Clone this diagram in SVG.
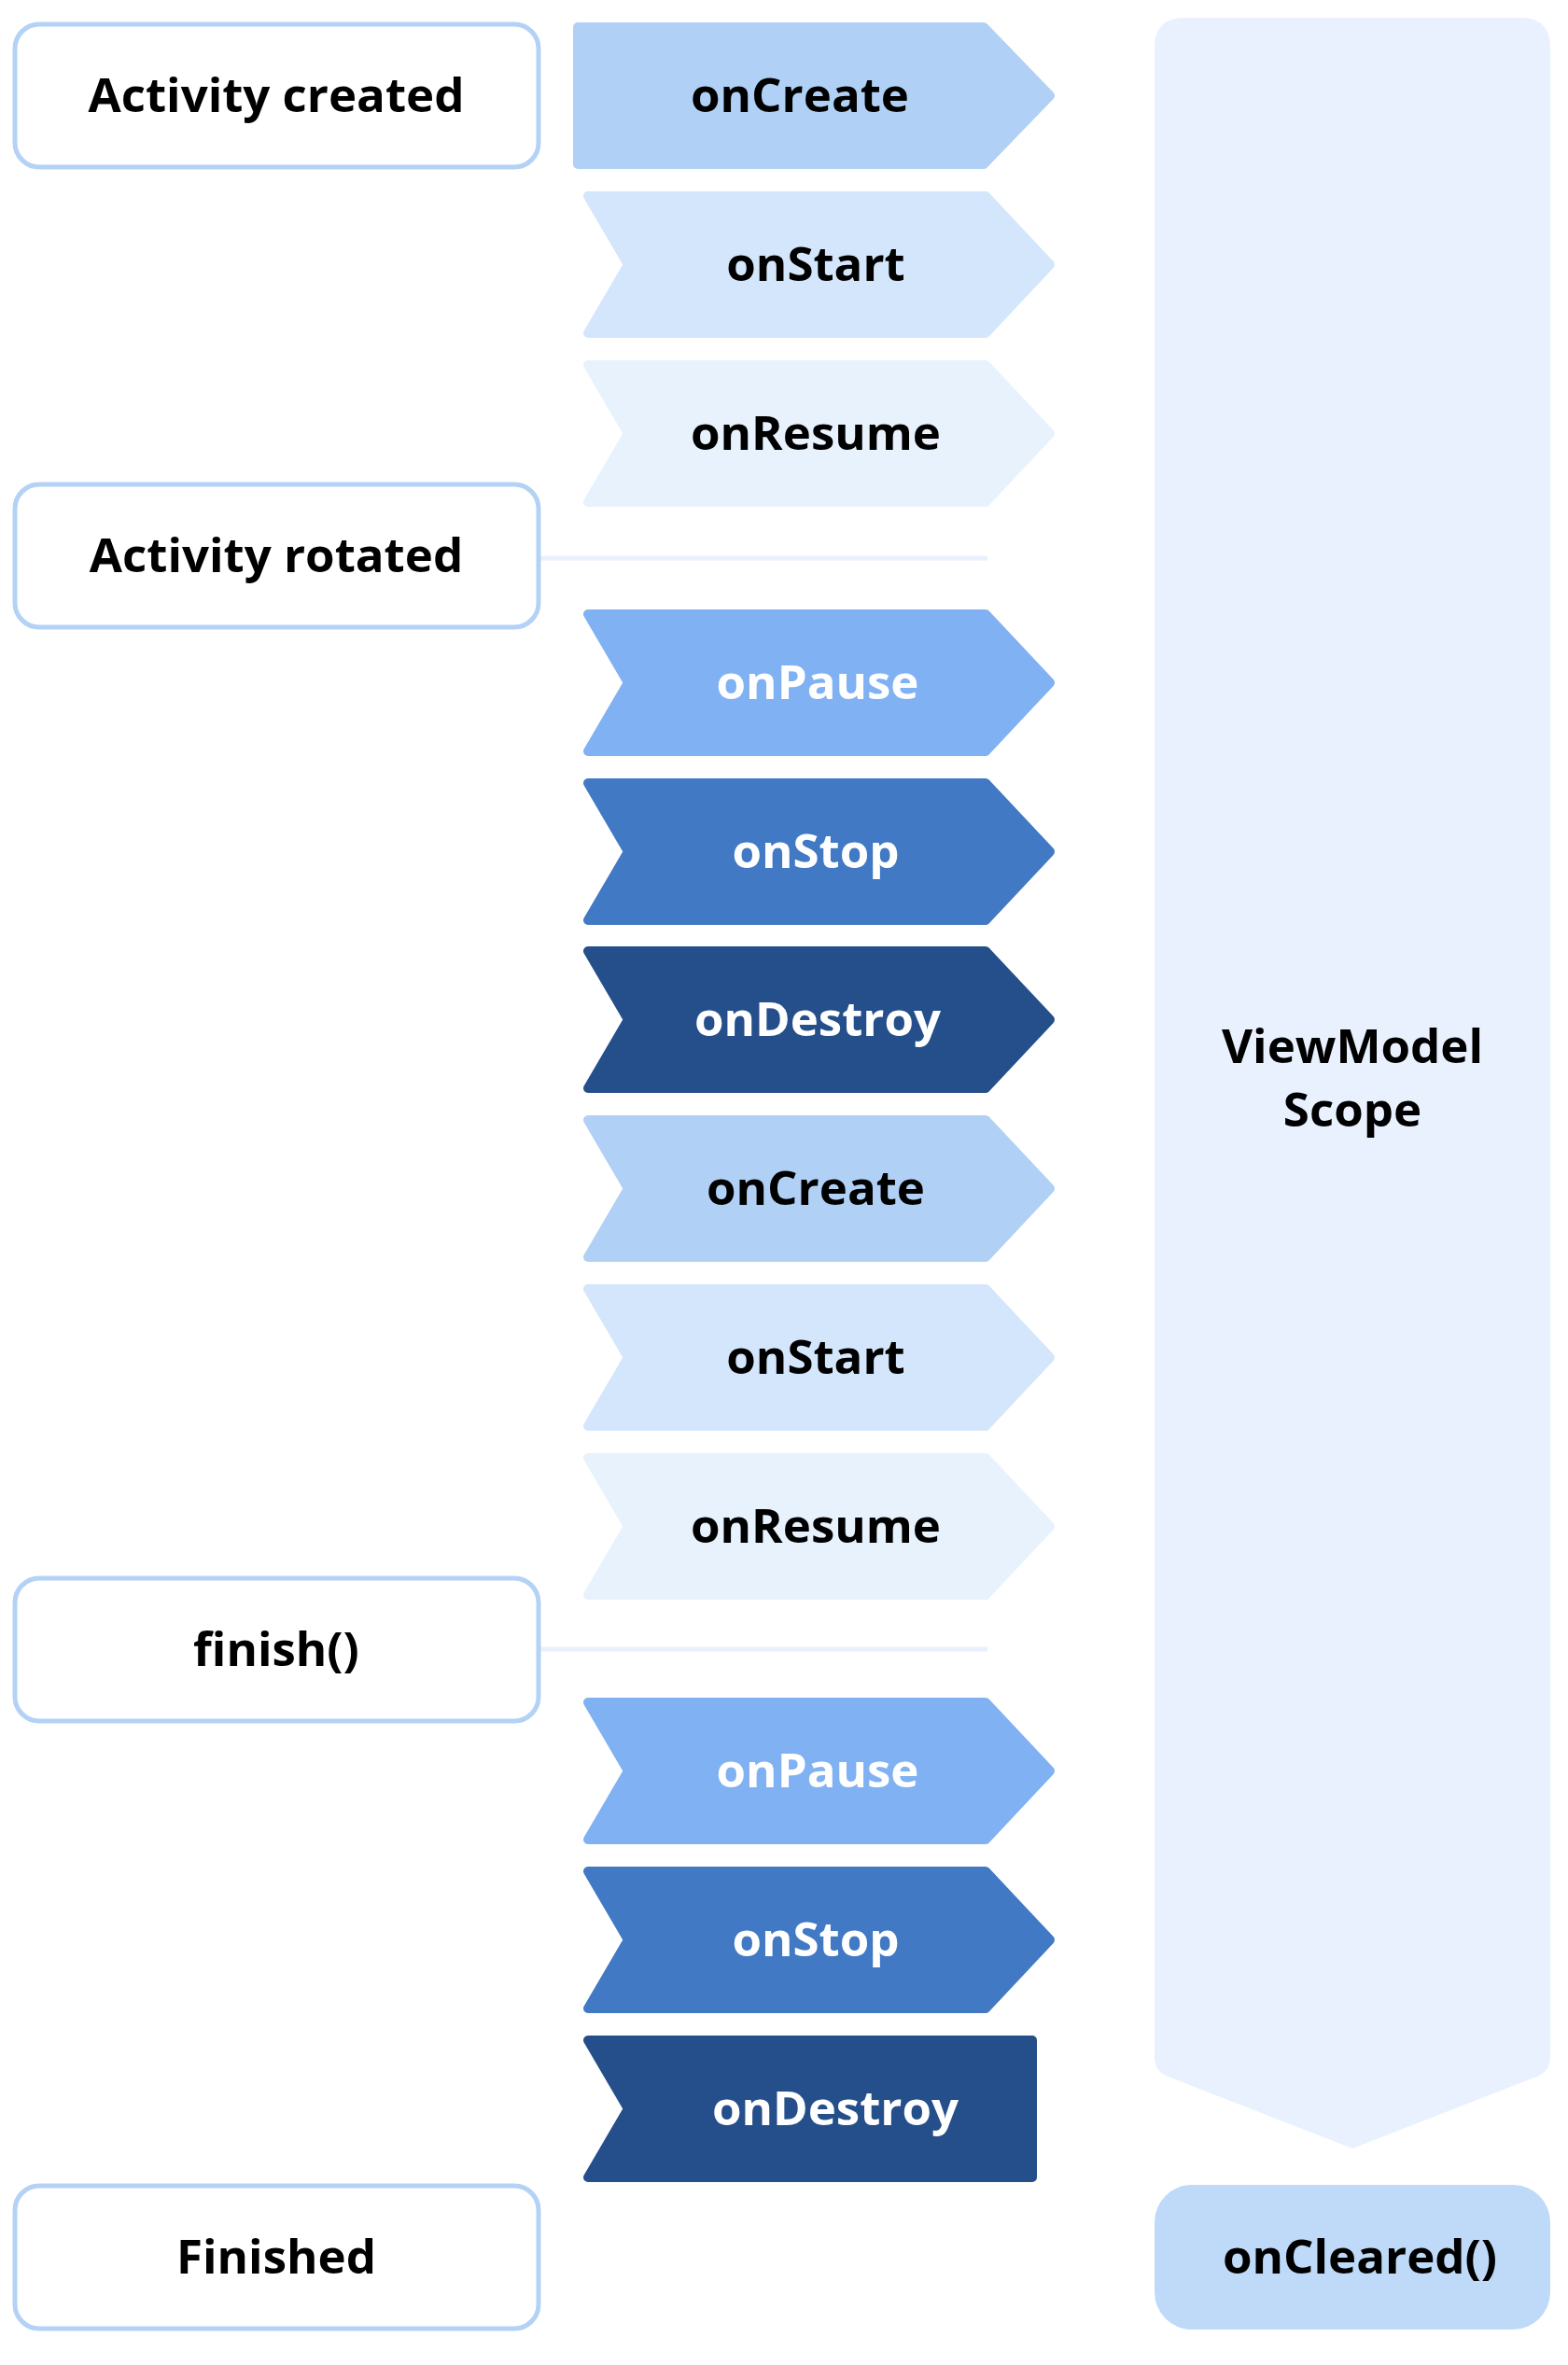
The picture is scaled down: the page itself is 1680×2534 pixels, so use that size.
<svg xmlns="http://www.w3.org/2000/svg" width="1680" height="2534" viewBox="0 0 1680 2534">
<style>
.lbl{font-family:"Open Sans","Noto Sans","Liberation Sans",sans-serif;font-weight:700;font-size:51px;text-anchor:middle}
.dark{fill:#000000}
.light{fill:#ffffff}
.box{fill:#ffffff;stroke:#b3d2f6;stroke-width:5}
.sep{stroke:#e8f1fd;stroke-width:5;fill:none}
.c1{fill:#b0d1f5;stroke:#b0d1f5}
.c2{fill:#d4e6fb;stroke:#d4e6fb}
.c3{fill:#e8f2fd;stroke:#e8f2fd}
.c4{fill:#80b1f3;stroke:#80b1f3}
.c5{fill:#4179c5;stroke:#4179c5}
.c6{fill:#254f8a;stroke:#254f8a}
.chev{stroke-width:10;stroke-linejoin:round}
</style>
<defs>
<path id="notch" d="M5,5 H431 L500,78.5 L431,152 H5 L48,78.5 Z"/>
<path id="first" d="M5,5 H440 L511,78.5 L440,152 H5 Z"/>
<path id="last" d="M5,5 H481 V152 H5 L48,78.5 Z"/>
</defs>
<rect width="1680" height="2534" fill="#ffffff"/>

<g id="viewmodel-scope">
<path d="M1269,19 H1629 Q1661,19 1661,51 V2205 Q1661,2218 1649,2224 L1449,2302 L1249,2224 Q1237,2218 1237,2205 V51 Q1237,19 1269,19 Z" fill="#e8f1fd"/>
<text class="lbl dark" x="1449" y="1139">ViewModel</text>
<text class="lbl dark" x="1449" y="1207">Scope</text>
</g>

<g id="connectors">
<line class="sep" x1="579" y1="598" x2="1058" y2="598"/>
<line class="sep" x1="579" y1="1767" x2="1058" y2="1767"/>
</g>

<g id="activity-created">
<rect class="box" x="16" y="26" width="561" height="153" rx="26"/>
<text class="lbl dark" x="296" y="120">Activity created</text>
</g>
<g id="activity-rotated">
<rect class="box" x="16" y="519" width="561" height="153" rx="26"/>
<text class="lbl dark" x="296" y="613">Activity rotated</text>
</g>
<g id="finish">
<rect class="box" x="16" y="1691" width="561" height="153" rx="26"/>
<text class="lbl dark" x="296" y="1785">finish()</text>
</g>
<g id="finished">
<rect class="box" x="16" y="2342" width="561" height="153" rx="26"/>
<text class="lbl dark" x="296" y="2436">Finished</text>
</g>

<g id="oncreate-1">
<use href="#first" x="614" y="24" class="c1 chev"/>
<text class="lbl dark" x="857" y="120">onCreate</text>
</g>
<g id="onstart-1">
<use href="#notch" x="625" y="205" class="c2 chev"/>
<text class="lbl dark" x="874" y="301">onStart</text>
</g>
<g id="onresume-1">
<use href="#notch" x="625" y="386" class="c3 chev"/>
<text class="lbl dark" x="874" y="482">onResume</text>
</g>
<g id="onpause-1">
<use href="#notch" x="625" y="653" class="c4 chev"/>
<text class="lbl light" x="876" y="749">onPause</text>
</g>
<g id="onstop-1">
<use href="#notch" x="625" y="834" class="c5 chev"/>
<text class="lbl light" x="874" y="930">onStop</text>
</g>
<g id="ondestroy-1">
<use href="#notch" x="625" y="1014" class="c6 chev"/>
<text class="lbl light" x="876" y="1110">onDestroy</text>
</g>
<g id="oncreate-2">
<use href="#notch" x="625" y="1195" class="c1 chev"/>
<text class="lbl dark" x="874" y="1291">onCreate</text>
</g>
<g id="onstart-2">
<use href="#notch" x="625" y="1376" class="c2 chev"/>
<text class="lbl dark" x="874" y="1472">onStart</text>
</g>
<g id="onresume-2">
<use href="#notch" x="625" y="1557" class="c3 chev"/>
<text class="lbl dark" x="874" y="1653">onResume</text>
</g>
<g id="onpause-2">
<use href="#notch" x="625" y="1819" class="c4 chev"/>
<text class="lbl light" x="876" y="1915">onPause</text>
</g>
<g id="onstop-2">
<use href="#notch" x="625" y="2000" class="c5 chev"/>
<text class="lbl light" x="874" y="2096">onStop</text>
</g>
<g id="ondestroy-2">
<use href="#last" x="625" y="2181" class="c6 chev"/>
<text class="lbl light" x="895" y="2277">onDestroy</text>
</g>

<g id="oncleared">
<rect x="1237" y="2341" width="424" height="155" rx="40" fill="#bedaf8"/>
<text class="lbl dark" x="1457" y="2436">onCleared()</text>
</g>
</svg>
